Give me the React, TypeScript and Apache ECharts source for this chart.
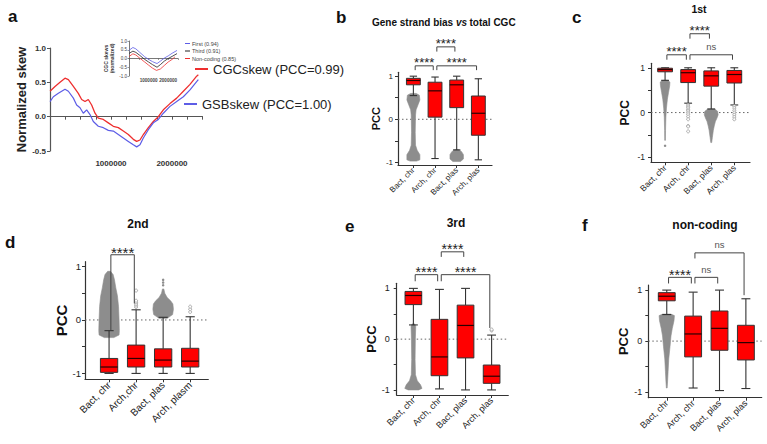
import React, { useEffect, useRef } from "react";
import * as echarts from "echarts";

const FONT = "'Liberation Sans', Arial, Helvetica, sans-serif";
const RED = "#ee2f2f";
const BLUE = "#5d5de6";
const BOX_RED = "#ff0000";
const INK = "#333333";
const CLOUD_GRAY = "#8d8d8d";

// ---------- Panel a: genome position (bp) vs normalized skew ----------
const CGC_SKEW: number[][] = [
  [0, 0.37], [82000, 0.44], [164000, 0.5], [246000, 0.56], [301000, 0.54], [383000, 0.44],
  [464000, 0.34], [519000, 0.25], [574000, 0.22], [628000, 0.25], [683000, 0.17], [738000, 0.05],
  [792000, -0.02], [874000, -0.04], [956000, -0.09], [1038000, -0.14], [1120000, -0.16],
  [1202000, -0.21], [1284000, -0.26], [1366000, -0.33], [1421000, -0.36], [1475000, -0.34],
  [1530000, -0.26], [1612000, -0.16], [1694000, -0.07], [1776000, 0.0], [1858000, 0.1],
  [1967000, 0.19], [2077000, 0.27], [2186000, 0.37], [2295000, 0.47], [2404000, 0.59], [2432000, 0.61],
];
const GSB_SKEW: number[][] = [
  [0, 0.22], [55000, 0.29], [137000, 0.34], [246000, 0.4], [301000, 0.37], [383000, 0.27],
  [437000, 0.17], [492000, 0.13], [546000, 0.05], [601000, 0.1], [656000, 0.03], [710000, -0.07],
  [792000, -0.14], [874000, -0.16], [956000, -0.2], [1038000, -0.21], [1120000, -0.26],
  [1202000, -0.31], [1284000, -0.36], [1366000, -0.41], [1421000, -0.44], [1475000, -0.41],
  [1530000, -0.31], [1612000, -0.19], [1694000, -0.09], [1776000, -0.04], [1858000, 0.05],
  [1967000, 0.15], [2077000, 0.22], [2186000, 0.29], [2295000, 0.39], [2404000, 0.51], [2432000, 0.54],
];
// inset: CGC skews of codon positions
const INSET_FIRST: number[][] = [
  [0, 0.46], [100000, 0.55], [200000, 0.63], [350000, 0.55], [550000, 0.35], [800000, 0.1],
  [1000000, -0.05], [1200000, -0.18], [1430000, -0.29], [1600000, -0.15], [1800000, 0.02],
  [2000000, 0.15], [2200000, 0.3], [2450000, 0.46],
];
const INSET_THIRD: number[][] = [
  [0, 0.29], [200000, 0.42], [350000, 0.35], [550000, 0.18], [800000, -0.05], [1000000, -0.2],
  [1200000, -0.35], [1430000, -0.5], [1600000, -0.35], [1800000, -0.15], [2000000, 0.0],
  [2200000, 0.12], [2450000, 0.28],
];
const INSET_NONCODING: number[][] = [
  [0, 0.11], [200000, 0.27], [350000, 0.2], [550000, 0.02], [800000, -0.2], [1000000, -0.38],
  [1200000, -0.55], [1400000, -0.68], [1600000, -0.6], [1800000, -0.4], [2000000, -0.2],
  [2200000, -0.05], [2300000, 0.05], [2350000, 0.1],
];
const MAIN_NAMES = ["CGCskew (PCC=0.99)", "GSBskew (PCC=1.00)"];
const INSET_NAMES = ["First (0.94)", "Third (0.91)", "Non-coding (0.85)"];
const A_X_LABELS = [1000000, 2000000];

// ---------- Panels b-f: PCC box plots ----------
const CATS = ["Bact, chr", "Arch, chr", "Bact, plas", "Arch, plas"];
const CATS_D = ["Bact, chr", "Arch,chr", "Bact, plas", "Arch, plasm"];
const Y_TICKS = [-1, -0.5, 0, 0.5, 1];
const Y_LABELS = [-1, 0, 1];

// [min, q1, median, q3, max]
const BOX_B = [[0.55, 0.8, 0.9, 0.95, 1.0], [-0.91, 0.05, 0.66, 0.86, 0.98], [-0.71, 0.27, 0.8, 0.91, 1.0], [-0.94, -0.37, 0.14, 0.54, 0.94]];
const BOX_C = [[0.72, 0.91, 0.96, 0.99, 1.0], [0.21, 0.67, 0.89, 0.96, 1.0], [0.08, 0.59, 0.82, 0.93, 1.0], [0.17, 0.66, 0.85, 0.94, 1.0]];
const BOX_D = [[-1.0, -0.98, -0.88, -0.72, -0.2], [-1.0, -0.88, -0.72, -0.47, 0.19], [-1.0, -0.88, -0.75, -0.54, 0.05], [-1.0, -0.88, -0.77, -0.53, 0.06]];
const BOX_E = [[0.28, 0.68, 0.86, 0.94, 1.0], [-0.98, -0.72, -0.35, 0.39, 0.98], [-1.0, -0.37, 0.27, 0.67, 1.0], [-1.0, -0.87, -0.73, -0.51, 0.08]];
const BOX_F = [[0.52, 0.79, 0.88, 0.95, 1.0], [-0.92, -0.31, 0.14, 0.49, 0.96], [-0.97, -0.18, 0.25, 0.59, 1.0], [-0.93, -0.37, -0.03, 0.31, 0.83]];

// dense outlier clouds: [category, [[pcc, relative spread], ...]]
const CLOUD_B: [number, number[][]][] = [
  [0, [[0.6, 0.25], [0.56, 0.55], [0.45, 0.6], [0.35, 0.45], [0.22, 0.25], [0.1, 0.2], [-0.3, 0.17], [-0.6, 0.2], [-0.72, 0.35], [-0.82, 0.6], [-0.94, 0.6], [-0.97, 0.3]]],
  [2, [[-0.7, 0.15], [-0.75, 0.45], [-0.82, 0.62], [-0.92, 0.62], [-0.98, 0.35]]],
];
const CLOUD_C: [number, number[][]][] = [
  [0, [[0.72, 0.2], [0.68, 0.42], [0.6, 0.4], [0.45, 0.3], [0.3, 0.2], [0.1, 0.12], [-0.1, 0.07], [-0.4, 0.04], [-0.62, 0.03]]],
  [2, [[0.08, 0.3], [0.03, 0.55], [-0.05, 0.6], [-0.12, 0.5], [-0.2, 0.36], [-0.3, 0.26], [-0.4, 0.18], [-0.55, 0.1], [-0.67, 0.04]]],
];
const CLOUD_D: [number, number[][]][] = [
  [0, [[0.91, 0.1], [0.85, 0.3], [0.75, 0.4], [0.6, 0.5], [0.45, 0.62], [0.25, 0.7], [0.0, 0.74], [-0.2, 0.76], [-0.28, 0.74], [-0.33, 0.35]]],
  [2, [[0.58, 0.05], [0.5, 0.12], [0.42, 0.3], [0.36, 0.55], [0.3, 0.72], [0.2, 0.76], [0.1, 0.7], [0.03, 0.3]]],
];
const CLOUD_E: [number, number[][]][] = [
  [0, [[0.3, 0.1], [0.25, 0.18], [0.0, 0.15], [-0.4, 0.13], [-0.7, 0.16], [-0.82, 0.3], [-0.9, 0.55], [-0.97, 0.66], [-1.0, 0.4]]],
];
const CLOUD_F: [number, number[][]][] = [
  [0, [[0.53, 0.3], [0.5, 0.58], [0.4, 0.55], [0.25, 0.42], [0.1, 0.32], [-0.1, 0.25], [-0.35, 0.15], [-0.6, 0.1], [-0.8, 0.06], [-0.92, 0.03]]],
];

// single outliers
const DOTS_C = [[0, -0.74]];
const DOTS_D = [[2, 0.65], [2, 0.7], [2, 0.75]];
const HOLLOW_C = [[1, 0.17], [1, 0.14], [1, 0.11], [1, 0.07], [1, 0.04], [1, 0.0], [1, -0.04], [1, -0.09], [1, -0.15], [1, -0.3], [1, -0.31], [1, -0.42], [3, 0.14], [3, 0.1], [3, 0.05], [3, 0.0], [3, -0.05], [3, -0.1], [3, -0.15]];
const HOLLOW_D = [[1, 0.24], [1, 0.27], [1, 0.3], [1, 0.33], [1, 0.36], [1, 0.55], [3, 0.15], [3, 0.2], [3, 0.25]];
const HOLLOW_E = [[3, 0.17], [3, 0.19]];

// significance brackets: [from, to, level, left leg end, right leg end]
const BRK_B = [[0, 1, 1.24, 1.14, 1.14], [1, 3, 1.24, 1.14, 1.14], [1, 2, 1.68, 1.57, 1.57]];
const LAB_B = ["****", "****", "****"];
const BRK_C = [[0, 1, 1.29, 1.18, 1.18], [1, 3, 1.29, 1.18, 1.18], [1, 2, 1.76, 1.65, 1.65]];
const LAB_C = ["****", "ns", "****"];
const BRK_D = [[0, 1, 1.22, -0.19, 0.31]];
const LAB_D = ["****"];
const BRK_E = [[0, 1, 1.27, 1.14, 1.14], [1, 3, 1.27, 1.14, 0.22], [1, 2, 1.72, 1.62, 1.62]];
const LAB_E = ["****", "****", "****"];
const BRK_F = [[0, 1, 1.25, 1.13, 1.13], [1, 2, 1.25, 1.13, 1.13], [1, 3, 1.73, 1.62, 0.9]];
const LAB_F = ["****", "ns", "ns"];

const PANELS = [
  { grid: { left: 398, top: 72.3, width: 94, height: 92.7 }, xr: [-0.71, 3.63], yr: [-1.06, 1.09], cats: CATS, boxes: BOX_B, clouds: CLOUD_B, hollow: [] as number[][], dots: [] as number[][], brk: BRK_B, lab: LAB_B, xfs: 8, yfs: 8, nfs: 11, nameGap: 12, lblMargin: 5, starFs: 13 },
  { grid: { left: 651, top: 63.3, width: 99, height: 99 }, xr: [-0.61, 3.68], yr: [-1.11, 1.1], cats: CATS, boxes: BOX_C, clouds: CLOUD_C, hollow: HOLLOW_C, dots: DOTS_C, brk: BRK_C, lab: LAB_C, xfs: 8.5, yfs: 8.5, nfs: 12, nameGap: 20, lblMargin: 6, starFs: 13 },
  { grid: { left: 85, top: 261.7, width: 123.3, height: 117.6 }, xr: [-0.89, 3.67], yr: [-1.11, 1.09], cats: CATS_D, boxes: BOX_D, clouds: CLOUD_D, hollow: HOLLOW_D, dots: DOTS_D, brk: BRK_D, lab: LAB_D, xfs: 10, yfs: 9.5, nfs: 15, nameGap: 11, lblMargin: 4, starFs: 15 },
  { grid: { left: 396.7, top: 283.3, width: 111.6, height: 111.7 }, xr: [-0.64, 3.64], yr: [-1.1, 1.1], cats: CATS, boxes: BOX_E, clouds: CLOUD_E, hollow: HOLLOW_E, dots: [] as number[][], brk: BRK_E, lab: LAB_E, xfs: 9, yfs: 9, nfs: 13, nameGap: 16, lblMargin: 7, starFs: 14 },
  { grid: { left: 648.3, top: 285, width: 113.4, height: 112.7 }, xr: [-0.7, 3.6], yr: [-1.11, 1.1], cats: CATS, boxes: BOX_F, clouds: CLOUD_F, hollow: [] as number[][], dots: [] as number[][], brk: BRK_F, lab: LAB_F, xfs: 9, yfs: 9, nfs: 13, nameGap: 16, lblMargin: 6, starFs: 14 },
];

const axisLine = (color = INK, width = 1.2) => ({ show: true, onZero: false, lineStyle: { color, width } });

function cloudRender(clouds: [number, number[][]][]) {
  return (params: any, api: any) => {
    const [cat, profile] = clouds[params.dataIndex];
    const unit = api.size([1, 0])[0];
    const right: number[][] = [];
    const left: number[][] = [];
    profile.forEach(([v, w]) => {
      const [cx, cy] = api.coord([cat, v]);
      right.push([cx + (w * unit) / 2, cy]);
      left.unshift([cx - (w * unit) / 2, cy]);
    });
    return {
      type: "polygon",
      shape: { points: right.concat(left) },
      style: { fill: CLOUD_GRAY, stroke: CLOUD_GRAY, lineWidth: 0.6 },
    };
  };
}

function boxRender(params: any, api: any) {
  const x = api.value(0);
  const y = [1, 2, 3, 4, 5].map((i) => api.coord([x, api.value(i)])[1]);
  const cx = api.coord([x, api.value(3)])[0];
  const unit = api.size([1, 0])[0];
  const bw = unit * 0.64;
  const cw = unit * 0.34;
  const ls = { stroke: INK, lineWidth: 1.1 };
  return {
    type: "group",
    children: [
      { type: "line", shape: { x1: cx, y1: y[4], x2: cx, y2: y[3] }, style: ls },
      { type: "line", shape: { x1: cx, y1: y[1], x2: cx, y2: y[0] }, style: ls },
      { type: "line", shape: { x1: cx - cw / 2, y1: y[4], x2: cx + cw / 2, y2: y[4] }, style: ls },
      { type: "line", shape: { x1: cx - cw / 2, y1: y[0], x2: cx + cw / 2, y2: y[0] }, style: ls },
      { type: "rect", shape: { x: cx - bw / 2, y: y[3], width: bw, height: y[1] - y[3] }, style: { fill: BOX_RED, stroke: INK, lineWidth: 1 } },
      { type: "line", shape: { x1: cx - bw / 2, y1: y[2], x2: cx + bw / 2, y2: y[2] }, style: { stroke: "#2a0000", lineWidth: 1.2 } },
    ],
  };
}

function bracketRender(brk: number[][], labels: string[], starFs: number) {
  return (params: any, api: any) => {
    const [a, b, lvl, la, lb] = brk[params.dataIndex];
    const label = labels[params.dataIndex];
    const [xa, yl] = api.coord([a, lvl]);
    const xb = api.coord([b, lvl])[0];
    const ya = api.coord([a, la])[1];
    const yb = api.coord([b, lb])[1];
    const x1 = xa + 1.8;
    const x2 = xb - 1.8;
    const isNs = label === "ns";
    const fs = isNs ? 9.5 : starFs;
    const ty = isNs ? yl - 8.3 : yl - 6 + 0.23 * fs;
    return {
      type: "group",
      children: [
        { type: "polyline", shape: { points: [[x1, ya], [x1, yl], [x2, yl], [x2, yb]] }, style: { stroke: "#444", lineWidth: 1, fill: null } },
        {
          type: "text",
          x: (x1 + x2) / 2,
          y: ty,
          style: {
            text: label, fontSize: fs, fontFamily: FONT, fill: isNs ? "#555" : "#222",
            textAlign: "center", textVerticalAlign: "middle", align: "center", verticalAlign: "middle",
          },
        },
      ],
    };
  };
}

function txt(text: string, x: number, y: number, fontSize: number, align = "center", italic = false) {
  return {
    type: "text", x, y, silent: true,
    style: {
      text, fontSize, fontWeight: "bold", fontStyle: italic ? "italic" : "normal", fontFamily: FONT, fill: "#111",
      font: `${italic ? "italic " : ""}bold ${fontSize}px ${FONT}`,
      textAlign: align, textVerticalAlign: "middle", align, verticalAlign: "middle",
    },
  };
}

function buildOption() {
  const grids: any[] = [
    { left: 50, top: 48, width: 152.5, height: 103 },
    { left: 129, top: 41, width: 49, height: 35 },
  ];
  const plain = (v: number) => String(v);
  const xAxes: any[] = [
    { type: "value", gridIndex: 0, min: 0, max: 2500000, interval: 250000, axisLine: { show: true, onZero: true, lineStyle: { color: "#555", width: 1.2 } }, axisTick: { show: true, length: 3, lineStyle: { color: "#555" } }, axisLabel: { show: false }, splitLine: { show: false } },
    { type: "value", gridIndex: 0, min: 0, max: 2500000, position: "bottom", axisLine: { show: false, onZero: false }, axisTick: { show: false }, axisLabel: { customValues: A_X_LABELS, formatter: plain, hideOverlap: false, fontSize: 8, fontWeight: "bold", color: "#333", margin: 8, fontFamily: FONT }, splitLine: { show: false } },
    { type: "value", gridIndex: 1, min: 0, max: 2500000, interval: 500000, axisLine: { show: true, onZero: true, lineStyle: { color: "#555", width: 0.8 } }, axisTick: { show: true, length: 1.5, lineStyle: { color: "#555", width: 0.6 } }, axisLabel: { show: false }, splitLine: { show: false } },
    { type: "value", gridIndex: 1, min: 0, max: 2500000, position: "bottom", axisLine: { show: false, onZero: false }, axisTick: { show: false }, axisLabel: { customValues: A_X_LABELS, formatter: plain, hideOverlap: false, fontSize: 4.6, fontWeight: "bold", color: "#444", margin: 2, fontFamily: FONT }, splitLine: { show: false } },
  ];
  const yAxes: any[] = [
    { type: "value", gridIndex: 0, min: -0.5, max: 1, interval: 0.5, axisLine: { show: true, onZero: false, lineStyle: { color: "#555", width: 1.2 } }, axisTick: { show: true, length: 3, lineStyle: { color: "#555" } }, axisLabel: { formatter: (v: number) => v.toFixed(1), fontSize: 8, fontWeight: "bold", color: "#333", margin: 4, fontFamily: FONT }, splitLine: { show: false }, name: "Normalized skew", nameLocation: "middle", nameGap: 22, nameTextStyle: { fontSize: 13, fontWeight: "bold", color: "#222", fontFamily: FONT } },
    { type: "value", gridIndex: 1, min: -1, max: 1, interval: 0.5, axisLine: { show: true, onZero: false, lineStyle: { color: "#555", width: 0.8 } }, axisTick: { show: true, length: 1.5, lineStyle: { color: "#555", width: 0.6 } }, axisLabel: { formatter: (v: number) => v.toFixed(1), fontSize: 4.5, color: "#444", margin: 2, fontFamily: FONT }, splitLine: { show: false }, name: "CGC skews\n(normalized)", nameLocation: "middle", nameGap: 10, nameTextStyle: { fontSize: 5, fontWeight: "bold", color: "#333", fontFamily: FONT, lineHeight: 6 } },
  ];
  const lineS = (name: string, data: number[][], color: string, xi: number, yi: number, w: number) => ({
    type: "line", name, data, xAxisIndex: xi, yAxisIndex: yi, showSymbol: false, symbol: "none", silent: true,
    lineStyle: { color, width: w }, itemStyle: { color }, z: 3,
  });
  const series: any[] = [
    lineS(MAIN_NAMES[0], CGC_SKEW, RED, 0, 0, 1.3),
    lineS(MAIN_NAMES[1], GSB_SKEW, BLUE, 0, 0, 1.2),
    lineS(INSET_NAMES[0], INSET_FIRST, BLUE, 2, 1, 0.8),
    lineS(INSET_NAMES[1], INSET_THIRD, "#222", 2, 1, 0.8),
    lineS(INSET_NAMES[2], INSET_NONCODING, RED, 2, 1, 0.8),
  ];

  PANELS.forEach((p) => {
    const gi = grids.length;
    grids.push({ ...p.grid });
    const xi = xAxes.length;
    xAxes.push({
      type: "value", gridIndex: gi, min: p.xr[0], max: p.xr[1],
      axisLine: axisLine(), axisTick: { show: true, customValues: [0, 1, 2, 3], length: 3, lineStyle: { color: INK, width: 1 } },
      axisLabel: { customValues: [0, 1, 2, 3], formatter: (v: number) => p.cats[Math.round(v)], rotate: 45, fontSize: p.xfs, color: "#222", margin: 4, fontFamily: FONT },
      splitLine: { show: false },
    });
    const yi = yAxes.length;
    yAxes.push({
      type: "value", gridIndex: gi, min: p.yr[0], max: p.yr[1],
      axisLine: axisLine(), axisTick: { show: true, customValues: Y_TICKS, length: 3, lineStyle: { color: INK, width: 1 } },
      axisLabel: { customValues: Y_LABELS, fontSize: p.yfs, color: "#222", margin: p.lblMargin, fontFamily: FONT },
      splitLine: { show: false },
      name: "PCC", nameLocation: "middle", nameGap: p.nameGap,
      nameTextStyle: { fontSize: p.nfs, fontWeight: "bold", color: "#111", fontFamily: FONT },
    });
    series.push({
      type: "line", data: [[p.xr[0], 0], [p.xr[1], 0]], xAxisIndex: xi, yAxisIndex: yi, showSymbol: false, symbol: "none", silent: true,
      lineStyle: { color: "#666", width: 1, type: [1.5, 2.5] }, z: 1,
    });
    series.push({
      type: "custom", coordinateSystem: "cartesian2d", xAxisIndex: xi, yAxisIndex: yi, silent: true, z: 2,
      data: p.clouds.map((c) => [c[0], c[1][0][0]]), renderItem: cloudRender(p.clouds),
    });
    series.push({
      type: "custom", coordinateSystem: "cartesian2d", xAxisIndex: xi, yAxisIndex: yi, silent: true, z: 3,
      data: p.boxes.map((b, i) => [i, ...b]), encode: { x: 0, y: [1, 2, 3, 4, 5] }, renderItem: boxRender,
    });
    series.push({
      type: "scatter", data: p.hollow, xAxisIndex: xi, yAxisIndex: yi, silent: true, z: 4, symbolSize: 3,
      itemStyle: { color: "#ffffff", borderColor: "#9a9a9a", borderWidth: 0.8, opacity: 1 },
    });
    series.push({
      type: "scatter", data: p.dots, xAxisIndex: xi, yAxisIndex: yi, silent: true, z: 4, symbolSize: 2.5,
      itemStyle: { color: CLOUD_GRAY, opacity: 1 },
    });
    series.push({
      type: "custom", coordinateSystem: "cartesian2d", xAxisIndex: xi, yAxisIndex: yi, silent: true, z: 5, clip: false,
      data: p.brk.map((b) => [b[0], b[2]]), renderItem: bracketRender(p.brk, p.lab, p.starFs),
    });
  });

  grids.forEach((g) => {
    g.containLabel = false;
    g.outerBoundsMode = "none";
  });

  const legendBase = {
    selectedMode: false, padding: 0, icon: "rect", orient: "vertical",
  };

  return {
    animation: false,
    backgroundColor: "#ffffff",
    textStyle: { fontFamily: FONT },
    grid: grids,
    xAxis: xAxes,
    yAxis: yAxes,
    legend: [
      { ...legendBase, data: [MAIN_NAMES[0]], left: 195, top: 62.5, itemWidth: 13, itemHeight: 2, itemGap: 4, textStyle: { fontSize: 13, color: "#222", fontFamily: FONT } },
      { ...legendBase, data: [MAIN_NAMES[1]], left: 184, top: 97.5, itemWidth: 13, itemHeight: 2, itemGap: 4, textStyle: { fontSize: 13, color: "#222", fontFamily: FONT } },
      { ...legendBase, data: INSET_NAMES, left: 185, top: 40.5, itemWidth: 5, itemHeight: 1, itemGap: 1.5, textStyle: { fontSize: 5.5, color: "#444", fontFamily: FONT, padding: [0, 0, 0, -3] } },
    ],
    graphic: [
      txt("a", 8, 16, 17, "left"),
      txt("b", 336, 17, 17, "left"),
      txt("c", 572, 17, 17, "left"),
      txt("d", 5, 242, 17, "left"),
      txt("e", 345, 226, 17, "left"),
      txt("f", 582, 225, 17, "left"),
      txt("Gene strand bias", 372, 22, 10, "left"),
      txt("vs", 456, 22, 10, "left", true),
      txt("total CGC", 469.5, 22, 10, "left"),
      txt("1st", 699, 8.5, 10.5),
      txt("2nd", 138, 224, 12),
      txt("3rd", 456, 223, 12),
      txt("non-coding", 705, 225, 12),
    ],
    series,
  };
}

export default function App() {
  const ref = useRef<HTMLDivElement>(null);
  useEffect(() => {
    const chart = echarts.init(ref.current as HTMLDivElement, null, { renderer: "svg" });
    chart.setOption(buildOption() as any);
    return () => chart.dispose();
  }, []);
  return <div ref={ref} style={{ position: "absolute", left: 0, top: 0, width: 767, height: 444 }} />;
}
